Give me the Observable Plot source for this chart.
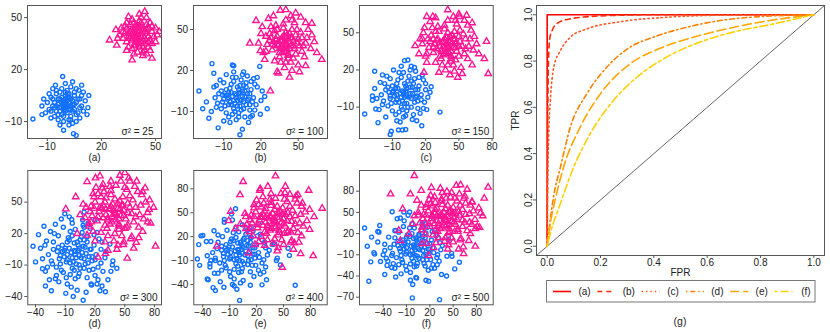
<!DOCTYPE html>
<html><head><meta charset="utf-8">
<script src="https://cdn.jsdelivr.net/npm/d3@7"></script>
<script src="https://cdn.jsdelivr.net/npm/@observablehq/plot@0.6"></script>
<style>
body{margin:0;background:#fff;}
#wrap{position:relative;width:830px;height:332px;overflow:hidden;background:#fff;font-family:"Liberation Sans",Arial,Helvetica,sans-serif;}
#wrap svg{position:absolute;}
</style></head><body><div id="wrap"></div>
<script>
// ---------- scatter data (flat x,y pairs) ----------
const aBlue = [-18,-8.5, 6,-18, -1.5,16, -5.5,11, -13,-6, -13,-1, 12.5,-2, 7.5,8, 4.5,-17, -8,-8,
0,0, 1,2, -2,1, 3,-1, -1,-3, 2,4, -3,-2, 4,2, -4,3, 1,-5, 5,-3, -5,-4, 2,6, -6,1, 6,1, 0,5, -2,-6, 3,-7, -7,-1, 7,-5,
8,3, -8,4, 1,8, -3,7, 5,5, -5,6, 9,-1, -9,-3, 2,-9, -1,-10, 4,-11, -4,-9, 9,5, -10,1, 10,-4, 6,9, -7,9, 3,10, 11,2, -11,-5,
0,-2, 1,-1, -1,2, 2,-3, -2,4, 3,3, -3,-4, 4,-4, -4,0, 0,3, 1,6, -1,-7, 5,0, -6,-2, 7,3, -2,9, 2,-12, 8,-8, -6,-7, 6,-10,
-9,6, 10,7, 12,-6, -12,3, 0,12, 4,13, -3,-12, 13,5, -1,-15, 9,11,
-1,1, 2,-1, 0,-4, -3,3, 4,0, -5,-1, 1,4, 3,-3, -2,-2, 6,-6, -7,3, 5,7, -4,-6, 2,1, -1,-1, 0,7, 8,-2, -8,-4, 3,-9, -5,8];
const aPink = [24.5,37, 44,53.5, 35,50.5, 37,25.5, 48,26.5, 28,43, 51,40, 28.5,34,
40,40, 41,42, 39,38, 42,39, 38,41, 43,43, 37,37, 44,38, 36,42, 40,45, 41,35, 45,41, 35,39, 39,44, 42,36, 46,44, 34,36, 38,47, 43,33, 47,37,
33,41, 37,32, 45,46, 40,30, 48,42, 32,38, 41,48, 36,46, 44,31, 49,39, 31,44, 39,34, 46,33, 34,47, 42,50, 47,47, 30,40, 38,29, 50,44, 43,28,
35,33, 45,50, 40,37, 42,44, 38,43, 44,35, 36,39, 41,33, 39,46, 46,39, 33,45, 48,35, 37,49, 45,29, 52,42, 29,38, 41,52, 34,31, 47,31, 50,36,
40,42, 42,41, 38,39, 41,38, 39,40, 43,37, 37,43, 44,42, 36,38, 42,47, 38,34, 46,36, 34,44, 41,45, 45,43, 39,36, 35,41, 43,30, 48,45, 32,42];

const bBlue = [-30,5, -27,-8, -22,-15, -19.5,25, -18,18, -3,24, -2,23.5, -14.5,-22, 3,-27, 19,23, 17,15, 21,5, 25,-8, 19.5,-12, 11.5,-14, 5,-23, -10,-17,
0,0, 2,3, -3,1, 4,-2, -1,-4, 5,5, -5,-3, 3,-6, -6,4, 7,1, -7,-1, 1,8, -2,-8, 8,-5, -8,6, 6,9, -4,10, 9,3,
-9,-6, 10,-1, -11,2, 2,-11, -3,-12, 12,6, -12,-8, 11,-9, -10,11, 4,13, -6,-14, 14,0, -14,3, 7,-14, 0,15, 15,10,
-15,-4, 13,-13, -13,13, 5,17, -8,17, 16,-5, -17,0, 9,16, -5,-18, 17,8, -18,8, 10,-18, -2,19, 20,-2, -20,-10, 12,12,
1,-2, -1,3, 3,4, -4,-5, 6,-3, -6,0, 2,6, 8,8, -9,2, 4,-9, -2,12, 11,-5, -11,-3, 0,-16, 14,14, -16,9, 23,1, -24,-3,
0,2, 3,-1, -2,-2, 5,1, -4,4, 1,-6, -6,-5, 7,5, -7,2, 3,9, -1,-10, 9,-2, -10,-1, 6,-8, -5,7, 11,3, -12,5, 2,-14, -3,15, 13,-3, -8,-11, 8,11, 15,-9, -16,-7, 6,19];
const bPink = [27.5,5, 11,40, 16,56.5, 35.5,64, 40,64.5, 61,54.5, 69,28, 56,23.5, 33,19, 19.5,34.5,
40,40, 42,43, 38,37, 44,38, 36,42, 41,35, 39,45, 46,41, 34,39, 43,47, 37,33, 47,36, 33,45, 45,50, 35,30, 50,43, 30,41, 42,29, 38,51, 48,32,
29,35, 52,48, 27,47, 44,26, 32,53, 54,38, 25,39, 47,55, 36,26, 55,30, 24,45, 40,57, 50,24, 28,52, 57,44, 22,33, 45,20, 31,27, 58,50, 39,22,
20,47, 52,59, 60,36, 26,58, 34,18, 61,46, 18,40, 48,62, 43,15, 23,28, 41,39, 39,41, 43,36, 37,44, 45,44, 35,36, 49,40, 31,38, 40,48, 42,32,
53,34, 28,44, 46,29, 33,50, 56,55, 21,52, 63,41, 30,60, 51,19, 65,33,
40,38, 43,41, 37,42, 41,46, 39,34, 46,38, 34,41, 44,44, 36,36, 48,46, 32,43, 42,31, 38,54, 51,38, 29,39, 45,57, 35,33, 53,44, 27,42, 40,26, 49,50, 31,49, 56,40, 24,34, 44,60];

const cBlue = [-35,-15.5, -26,19, -23,-22.5, -28,-1, -28,-4.5, -12,-32, -11,-29.5, 1,27.5, 4,28, 16.5,-25, 33,-14, 25,6.5, -4.5,-28.5, -1,-28.5, 2,-28, 8,-20, -25,-11.5,
0,0, 2,3, -3,1, 5,-2, -1,-5, 6,6, -6,-4, 3,-7, -7,5, 8,1, -8,-1, 1,9, -2,-10, 10,-6, -10,7, 7,11, -5,12, 11,4,
-11,-7, 12,-1, -13,2, 3,-13, -4,-14, 14,7, -14,-9, 13,-11, -12,13, 5,15, -7,-16, 16,0, -16,4, 9,-16, 0,18, 18,12,
-18,-5, 15,-15, -15,15, 6,20, -9,20, 19,-6, -20,0, 11,19, -6,-21, 20,9, -21,10, 12,-21, -2,23, 22,-2, -22,-12, 14,14,
1,-2, -1,3, 3,5, -4,-6, 7,-3, -6,0, 2,7, 9,9, -10,2, 4,-10, -2,14, 13,-5, -12,-3, 0,-18, 17,16, -17,9, 24,2, -24,-3,
-19,16, 21,-12, -3,-22, 10,22, -26,5,
0,2, 3,-1, -2,-2, 6,1, -5,5, 1,-7, -7,-6, 8,6, -9,3, 4,11, -1,-12, 11,-2, -12,-1, 7,-10, -6,9, 13,4, -14,6, 2,-17, -4,18, 16,-4, -10,-13, 10,13, 18,-11, -19,-8, 7,23, -16,-18, 20,4];
const cPink = [76.5,17, 73,29, 75,43, 40,68.5, 50.5,63, 21,63, 26.5,63, 15,45, 10.5,39.5, 18.5,18, 49,14, 14,33,
40,40, 42,43, 38,37, 45,38, 35,42, 41,34, 39,46, 47,41, 33,39, 44,48, 36,32, 48,35, 31,45, 46,51, 34,29, 51,43, 28,41, 43,27, 37,53, 50,31,
27,34, 54,49, 25,48, 45,24, 31,55, 56,37, 23,38, 48,57, 35,24, 58,29, 22,45, 40,60, 52,22, 26,54, 60,45, 20,31, 46,19, 29,26, 61,52, 38,20,
18,50, 55,60, 63,36, 24,59, 32,18, 64,47, 17,41, 50,65, 42,16, 21,26, 41,39, 39,41, 43,35, 37,45, 46,45, 34,36, 50,39, 30,37, 40,50, 43,31,
55,33, 27,45, 47,28, 32,51, 58,56, 19,54, 66,41, 29,62, 53,17, 68,33, 62,24, 57,64,
40,38, 44,42, 36,43, 42,47, 38,33, 47,38, 33,42, 45,45, 35,35, 50,47, 30,44, 43,29, 37,56, 53,39, 27,38, 47,60, 33,31, 56,45, 24,43, 40,24, 51,52, 29,51, 59,39, 21,33, 45,63, 62,58, 17,45];

const dBlue = [-42.5,8, -31.5,27, -30.5,9, -33,-13.5, -24,-34.5, -9.5,-37, 8,-43.5, 25,-34.5, 30.5,-35.5, 42,-13, 37.5,-10, 9,40.5, -10.5,39, -3.5,33.5, 7.5,33, -16.5,-26, 22,-28, 16.5,-29, 36,-16,
0,0, 3,4, -4,2, 6,-3, -2,-7, 8,8, -8,-5, 4,-10, -10,6, 11,1, -11,-2, 2,12, -3,-13, 13,-8, -13,9, 9,14, -7,16, 15,5,
-15,-9, 17,-2, -18,3, 4,-18, -5,-19, 19,9, -19,-12, 18,-14, -17,18, 7,21, -9,-22, 21,0, -22,5, 12,-22, 0,24, 24,15,
-24,-6, 20,-20, -21,20, 9,26, -12,26, 26,-8, -27,0, 15,25, -8,-28, 27,12, -29,13, 16,-28, -3,30, 30,-3, -30,-16, 19,19,
1,-3, -1,4, 4,6, -5,-8, 9,-4, -8,0, 3,9, 12,12, -13,3, 5,-13, -3,18, 17,-6, -16,-4, 0,-23, 22,21, -22,12, 31,3, -33,-4,
-25,22, 28,-16, -4,-31, 13,30, -35,6, -19,-20, 23,-24, -1,11, 10,-9, -6,14, 14,-15, -14,-15, 6,17, -26,-24, 33,-24, -20,29,
0,3, 4,-1, -3,-3, 7,2, -6,6, 1,-9, -9,-7, 10,7, -11,4, 5,14, -1,-15, 14,-2, -15,-1, 9,-13, -8,12, 16,5, -17,7, 3,-21, -5,22, 20,-5, -12,-17, 12,17, 23,-12, -23,-9, 8,28, -20,-23, 26,5, -28,-12, 2,-34, -14,34, 35,10, -37,19, 27,-30, -30,-30, 20,33, -2,-40, 38,-6, -40,-7, 11,-36, -6,36];
const dPink = [81,8, 52.5,-3.5, 0.5,55, -9.5,43.5, 12,69.5, 20.5,73, 54,73, 45,75.5, 74.5,43, 73,31, 61.5,11.5, 48.5,9.5, 23,-2.5, 2,20, 12,18.5, 14,29.5, 30.5,1, 33,4, 27.5,63.5, 70.5,63.5,
40,40, 43,44, 37,36, 46,37, 34,43, 41,33, 38,48, 49,42, 31,38, 45,51, 35,29, 51,34, 28,47, 48,55, 32,25, 55,45, 24,41, 44,24, 36,57, 53,28,
22,32, 58,52, 20,50, 47,18, 29,60, 61,36, 17,37, 52,62, 33,18, 64,26, 16,46, 41,66, 57,17, 23,58, 66,47, 14,27, 49,12, 26,21, 67,57, 39,13,
19,55, 60,65, 69,34, 21,64, 30,12, 71,50, 15,41, 55,70, 43,9, 18,22, 41,39, 39,42, 44,34, 36,46, 48,47, 33,35, 53,40, 28,35, 40,53, 44,29,
59,31, 25,45, 50,25, 31,54, 63,60, 18,58, 73,40, 28,67, 56,15, 76,30, 68,22, 62,70, 10,35, 8,48, 35,65,
40,38, 45,43, 35,44, 43,49, 37,31, 49,37, 31,43, 47,47, 33,33, 53,49, 27,44, 44,27, 36,61, 57,39, 23,36, 50,64, 30,28, 61,45, 19,44, 40,20, 55,56, 26,55, 65,38, 16,31, 46,70, 68,60, 11,45, 42,5, 59,6, 75,52, 5,38, 25,75, 64,16, 79,45, 50,78, 30,50, 52,26, 36,70, 20,13];

const eBlue = [-43.5,-16, -44.5,10, -35,-33, -28.5,-44, -26,-47.5, -20.5,-36.5, -16.5,-43.5, -7,-40, -5,-42, 1,-60, 26,-40.5, 55,5.5, 56.5,-3.5, 63,-41, 42,-10, 46.5,-15.5, -3.5,55, -8,48.5, -16,41.5, -40,21.5, -27.5,27.5, 4,35, 13,19, 37.5,10, 5,-35, 28,-24.5, -36,14, -31,-10,
0,0, 3,4, -4,2, 7,-3, -2,-8, 9,9, -9,-6, 4,-11, -11,7, 12,1, -12,-2, 2,13, -3,-14, 14,-9, -14,10, 10,15, -8,17, 16,6,
-16,-10, 18,-2, -19,3, 4,-20, -5,-21, 20,10, -21,-13, 19,-16, -18,20, 8,23, -10,-24, 22,0, -24,5, 13,-24, 0,26, 26,16,
-26,-7, 22,-22, -23,22, 10,28, -13,28, 28,-9, -29,0, 16,27, -9,-30, 29,13, -31,14, 17,-30, -3,32, 32,-3, -32,-18, 21,21,
1,-3, -1,4, 4,7, -5,-9, 10,-4, -9,0, 3,10, 13,13, -14,3, 6,-14, -3,19, 18,-7, -17,-5, 0,-25, 24,23, -23,13, 34,3, -35,-4,
-27,-26, 30,-18, -5,-33, 14,32, -19,-22, 24,-27, -1,12, 11,-10, -6,15, 15,-16, -15,-16, 6,18,
0,3, 4,-1, -3,-3, 8,2, -7,7, 1,-10, -10,-8, 11,8, -12,4, 5,16, -1,-17, 16,-2, -17,-1, 10,-15, -9,14, 18,6, -19,8, 3,-24, -6,25, 23,-6, -14,-19, 14,19, 26,-13, -26,-10, 9,31, -23,-26, 30,6, -32,-14, 2,-38, -16,38, 40,11, -42,21, 31,-34, -34,-34, 22,37, -2,-46, 43,-7, -46,-8, 13,-41, -7,41];
const ePink = [5,89, 41,96, 1.5,72.5, -9,51.5, -11,40, -24.5,8, 11,-0.5, 48.5,-18.5, 69,-1.5, 83,-4, 93,55.5, 78,78, 66,72.5, 51.5,75, 32.5,83, 23.5,78, 62,12, 58,25.5, 22.5,13.5, -3.5,30, 8,30,
40,40, 43,44, 37,36, 47,37, 33,43, 41,32, 38,49, 50,42, 30,38, 46,52, 35,28, 52,33, 27,48, 49,56, 31,24, 57,45, 23,41, 44,22, 36,59, 55,27,
21,31, 60,53, 19,51, 48,16, 28,62, 63,36, 15,37, 54,64, 32,16, 66,25, 14,47, 41,68, 59,15, 22,60, 69,48, 12,26, 50,10, 25,20, 70,58, 39,11,
17,56, 63,67, 72,33, 20,66, 29,9, 74,51, 13,41, 57,73, 44,6, 16,21, 41,39, 39,42, 45,33, 35,46, 49,48, 32,34, 54,40, 27,34, 40,54, 45,28,
61,30, 24,45, 51,24, 30,55, 65,62, 17,60, 76,40, 27,70, 58,13, 79,29, 70,21, 64,71, 9,35, 7,49, 35,67, 52,48, 43,58,
40,38, 45,44, 35,45, 44,50, 37,30, 50,36, 30,44, 48,48, 33,32, 55,50, 26,44, 45,25, 36,63, 59,39, 21,35, 51,67, 29,26, 63,46, 17,45, 40,17, 57,58, 25,57, 68,37, 13,30, 47,74, 71,62, 8,45, 43,2, 61,4, 79,54, 2,36, 24,80, 67,13, 84,45, 52,83, 29,52, 54,25, 36,74, 18,10];

const fBlue = [-64,28, -60.5,2, -58.5,-47.5, -52,-7, -43.5,-19.5, -44.5,31.5, -27,-22.5, -24,-41.5, -17,-37, -5,-46, -2.5,-71, 3,-43, 18.5,-47.5, 32.5,-73.5, 41.5,-40, 42,-12, 48.5,-12, 58,-20.5, -28.5,51, -13.5,50.5, -6,50.5, -22,41, -13,38, -45.5,22, -24,24.5, 29.5,-24, 12.5,-22, -55,15, -38,5, -35,-25, 22,-29,
0,0, 3,4, -4,2, 7,-3, -2,-9, 10,10, -10,-6, 4,-12, -12,7, 13,1, -13,-2, 2,14, -3,-15, 15,-10, -15,11, 11,16, -9,18, 17,6,
-17,-11, 20,-2, -21,3, 4,-22, -5,-23, 22,11, -23,-14, 21,-17, -20,22, 9,25, -11,-26, 24,0, -26,5, 14,-26, 0,28, 28,17,
-28,-8, 24,-24, -25,24, 11,30, -14,30, 30,-10, -31,0, 17,29, -10,-32, 31,14, -33,15, 18,-32, -3,34, 34,-3, -34,-19, 23,23,
1,-3, -1,4, 4,7, -5,-10, 11,-4, -10,0, 3,11, 14,14, -15,3, 6,-15, -3,20, 19,-8, -18,-5, 0,-27, 26,25, -25,14, 36,3, -38,-4,
-29,-28, 32,-19, -5,-35, 15,34, -20,-24, 26,-29, -1,13, 12,-11, -6,16, 16,-17, -16,-17, 6,19, -40,-10, -47,8,
0,3, 5,-1, -3,-4, 9,2, -8,8, 1,-11, -11,-9, 12,9, -13,5, 6,17, -1,-19, 18,-2, -19,-1, 11,-17, -10,15, 20,6, -21,9, 3,-26, -6,28, 25,-7, -15,-21, 15,21, 29,-14, -29,-11, 10,34, -25,-29, 33,7, -36,-15, 2,-42, -18,42, 44,12, -47,23, 35,-38, -38,-38, 25,41, -2,-52, 48,-8, -51,-9, 15,-46, -8,46, -56,-20, 52,-30];
const fPink = [0,102, -30.5,76, -5,76, 9,81, 33.5,84, 42,79.5, 59.5,89, 68,82.5, 95,85.5, 85,49, 78.5,27, 84,28.5, 78.5,2, 63.5,-8.5, 57,-2, 18.5,-11, 10,5.5, -18,10, -7,19.5, -20,24.5, 3.5,67, 21,74, 46.5,71.5, 74.5,64.5, -15,55, 0,45,
40,40, 43,44, 37,36, 48,37, 32,44, 41,31, 38,50, 51,42, 29,38, 47,53, 34,27, 53,33, 26,49, 50,57, 30,23, 58,46, 22,41, 44,21, 36,61, 56,26,
20,30, 62,54, 18,52, 48,14, 27,64, 65,36, 14,36, 55,66, 31,14, 68,24, 12,47, 41,70, 60,13, 21,62, 71,48, 10,25, 50,8, 24,18, 72,60, 39,9,
15,57, 64,70, 74,33, 19,68, 28,7, 76,52, 11,41, 58,76, 44,4, 14,19, 41,39, 39,42, 45,33, 35,47, 50,48, 31,34, 55,40, 26,34, 40,55, 45,27,
62,30, 23,46, 52,23, 29,56, 66,63, 16,61, 78,40, 26,72, 59,11, 81,30, 72,20, 65,73, 7,35, 5,50, 35,69, 53,48, 43,60, 9,60, 25,0,
40,38, 46,44, 34,45, 45,51, 36,29, 51,36, 29,45, 49,49, 32,31, 57,51, 24,44, 46,23, 35,66, 62,39, 19,34, 52,70, 27,24, 66,47, 15,46, 40,14, 59,60, 23,59, 71,36, 10,29, 48,78, 74,65, 5,46, 43,-2, 63,1, 83,56, -2,34, 22,85, 70,10, 88,45, 54,88, 27,54, 56,23, 36,78, 16,6, 90,70];

const panelLabels = ["(a)","(b)","(c)","(d)","(e)","(f)"];
const sigmaValues = [25, 100, 150, 300, 400, 500];

// ---------- ROC data ----------
const fprA = [0, 0, 1];
const tprA = [0.03, 1, 1];
const fprB = [0, 0.002, 0.005, 0.01, 0.02, 0.04, 0.09, 0.2, 0.4, 1];
const tprB = [0, 0.5, 0.8, 0.9, 0.935, 0.965, 0.983, 0.995, 1, 1];
const fprC = [0, 0.002, 0.006, 0.012, 0.025, 0.05, 0.087, 0.149, 0.274, 0.461, 0.65, 1];
const tprC = [0, 0.25, 0.49, 0.63, 0.774, 0.846, 0.903, 0.939, 0.97, 0.99, 0.998, 1];
const fprD = [0, 0.01, 0.025, 0.05, 0.087, 0.149, 0.224, 0.311, 0.398, 0.523, 0.648, 0.772, 1];
const tprD = [0, 0.1, 0.22, 0.343, 0.515, 0.659, 0.774, 0.86, 0.903, 0.946, 0.975, 0.99, 1];
const fprE = [0, 0.012, 0.03, 0.062, 0.124, 0.2, 0.311, 0.423, 0.548, 0.673, 0.797, 1];
const tprE = [0, 0.1, 0.2, 0.343, 0.515, 0.659, 0.788, 0.855, 0.903, 0.939, 0.968, 1];
const fprF = [0, 0.015, 0.042, 0.1, 0.162, 0.249, 0.336, 0.448, 0.573, 0.697, 0.847, 1];
const tprF = [0, 0.07, 0.16, 0.343, 0.487, 0.63, 0.73, 0.817, 0.882, 0.925, 0.96, 1];
const rocLabels = ["(a)","(b)","(c)","(d)","(e)","(f)"];
const rocTicks = [0, 0.2, 0.4, 0.6, 0.8, 1.0];

// ---------- styles ----------
const FONT = '"Liberation Sans", Arial, Helvetica, sans-serif';
const BLUE = "#1170ff", PINK = "#ff1493", FRAME = "#555";
const rocColors = ["#ff0000", "#ff2a00", "#ff5522", "#ff8000", "#ffa500", "#ffd000"];
const rocDash = [null, "5,4", "1.4,3", "1.4,3,5,3", "9,4", "3,3,8,3"];

const wrap = document.getElementById("wrap");
const pts = a => d3.range(0, a.length, 2).map(i => ({x: a[i], y: a[i + 1]}));

function scatter(cfg) {
  const p = Plot.plot({
    width: cfg.W, height: cfg.H,
    marginLeft: cfg.ml, marginRight: cfg.mr, marginTop: 5, marginBottom: cfg.H - 5 - cfg.fh,
    style: {fontFamily: FONT, fontSize: "10px", background: "transparent", overflow: "visible"},
    x: {domain: cfg.xd, label: null},
    y: {domain: cfg.yd, label: null},
    marks: [
      Plot.axisX({ticks: cfg.xt, tickSize: 3, tickPadding: 1, stroke: FRAME, fill: "#222", label: null}),
      Plot.axisY({ticks: cfg.yt, tickSize: 3, tickPadding: 2.5, stroke: FRAME, fill: "#222", label: null}),
      Plot.dot(pts(cfg.blue), {x: "x", y: "y", symbol: "circle", r: 2, stroke: BLUE, strokeWidth: 1.4, fill: "none", clip: true}),
      Plot.dot(pts(cfg.pink), {x: "x", y: "y", symbol: "triangle", r: 2.4, stroke: PINK, strokeWidth: 1.35, fill: "none", clip: true}),
      Plot.frame({stroke: FRAME, strokeWidth: 1}),
      Plot.text([`σ² = ${cfg.sig}`], {frameAnchor: "bottom-right", dx: -cfg.sdx, dy: -7, lineAnchor: "middle", textAnchor: "end", fontSize: 10, fill: "#222"}),
      Plot.text([cfg.cap], {frameAnchor: "bottom", dy: 19, lineAnchor: "middle", fontSize: 10, fill: "#222"})
    ]
  });
  p.style.left = cfg.left + "px"; p.style.top = cfg.top + "px";
  wrap.appendChild(p);
}

const cfgs = [
  {blue: aBlue, pink: aPink, xd: [-21, 53.3], yd: [-19.8, 57], xt: [-10, 20, 50], yt: [-10, 20, 50], ml: 27, mr: 9, left: 0, top: 0, W: 170, H: 165, fh: 133, sdx: 8},
  {blue: bBlue, pink: bPink, xd: [-34.4, 73.6], yd: [-29.8, 67.6], xt: [-10, 20, 50], yt: [-10, 20, 50], ml: 23, mr: 13, left: 170, top: 0, W: 170, H: 165, fh: 133, sdx: 4},
  {blue: cBlue, pink: cPink, xd: [-39.7, 81], yd: [-35.3, 72], xt: [-10, 20, 50, 80], yt: [-10, 20, 50], ml: 19, mr: 17.3, left: 340, top: 0, W: 170, H: 165, fh: 133, sdx: 4},
  {blue: dBlue, pink: dPink, xd: [-47.8, 87], yd: [-47.9, 80.2], xt: [-40, -10, 20, 50, 80], yt: [-40, -10, 20, 50], ml: 27.3, mr: 9, left: 0, top: 165, W: 170, H: 167, fh: 134.3, sdx: 4},
  {blue: eBlue, pink: ePink, xd: [-50, 98.6], yd: [-65.5, 103], xt: [-40, -10, 20, 50, 80], yt: [-40, -10, 20, 50, 80], ml: 23.3, mr: 13.3, left: 170, top: 165, W: 170, H: 167, fh: 134.3, sdx: 4},
  {blue: fBlue, pink: fPink, xd: [-70.5, 101.5], yd: [-80.8, 109.3], xt: [-40, -10, 20, 50, 80], yt: [-70, -40, -10, 20, 50, 80], ml: 19, mr: 17.3, left: 340, top: 165, W: 170, H: 167, fh: 134.3, sdx: 4}
];
cfgs.forEach((c, i) => scatter({...c, sig: sigmaValues[i], cap: panelLabels[i]}));

// ---------- ROC panel ----------
const rocSeries = [[fprA, tprA], [fprB, tprB], [fprC, tprC], [fprD, tprD], [fprE, tprE], [fprF, tprF]]
  .map(([f, t], i) => ({data: f.map((v, j) => ({fpr: v, tpr: t[j]})), color: rocColors[i], dash: rocDash[i], label: rocLabels[i]}));
const rocDomain = [-0.04, 1.04];
const diag = rocDomain.map(v => ({v}));

const roc = Plot.plot({
  width: 310, height: 280, marginLeft: 16, marginRight: 6, marginTop: 5, marginBottom: 25,
  style: {fontFamily: FONT, fontSize: "10px", background: "transparent", overflow: "visible"},
  x: {domain: rocDomain, label: null},
  y: {domain: rocDomain, label: null},
  marks: [
    Plot.axisX({ticks: rocTicks, tickFormat: d3.format(".1f"), tickSize: 3, tickPadding: 0, stroke: FRAME, fill: "#222", label: null}),
    Plot.axisY({ticks: rocTicks, tickFormat: () => "", tickSize: 3, stroke: FRAME, label: null}),
    Plot.text(rocTicks, {y: d => d, text: d => d3.format(".1f")(d), frameAnchor: "left", dx: -8, rotate: -90, textAnchor: "middle", lineAnchor: "middle", fill: "#222"}),
    Plot.line(diag, {x: "v", y: "v", stroke: "#222", strokeWidth: 0.7, clip: true}),
    ...rocSeries.map((s, i) => Plot.line(s.data, {x: "fpr", y: "tpr", stroke: s.color, strokeWidth: 1.6, strokeDasharray: s.dash, curve: i === 0 ? "linear" : "monotone-x", clip: true})),
    Plot.frame({stroke: FRAME}),
    Plot.text(["TPR"], {frameAnchor: "left", dx: -21, rotate: -90, lineAnchor: "middle", fill: "#222"}),
    Plot.text(["FPR"], {frameAnchor: "bottom", dy: 17, lineAnchor: "middle", fill: "#222"})
  ]
});
roc.style.left = "520px"; roc.style.top = "0px";
wrap.appendChild(roc);

// ---------- legend + caption (g) ----------
const leg = d3.select(wrap).append("svg").attr("width", 830).attr("height", 332).style("left", "0px").style("top", "0px")
  .style("font-family", FONT).style("font-size", "10px");
leg.append("rect").attr("x", 546.5).attr("y", 280.5).attr("width", 268.5).attr("height", 21.5).attr("fill", "#fff").attr("stroke", "#777");
rocSeries.forEach((s, i) => {
  const x0 = 553 + i * 44.3;
  leg.append("line").attr("x1", x0).attr("x2", x0 + 18).attr("y1", 291.5).attr("y2", 291.5)
    .attr("stroke", s.color).attr("stroke-width", 1.6).attr("stroke-dasharray", s.dash);
  leg.append("text").attr("x", x0 + 31.5).attr("y", 291.5).attr("dy", "0.35em").attr("text-anchor", "middle").attr("fill", "#222").text(s.label);
});
leg.append("text").attr("x", 680).attr("y", 321.5).attr("dy", "0.35em").attr("text-anchor", "middle").attr("font-size", "10.5px").attr("fill", "#222").text("(g)");
</script></body></html>
